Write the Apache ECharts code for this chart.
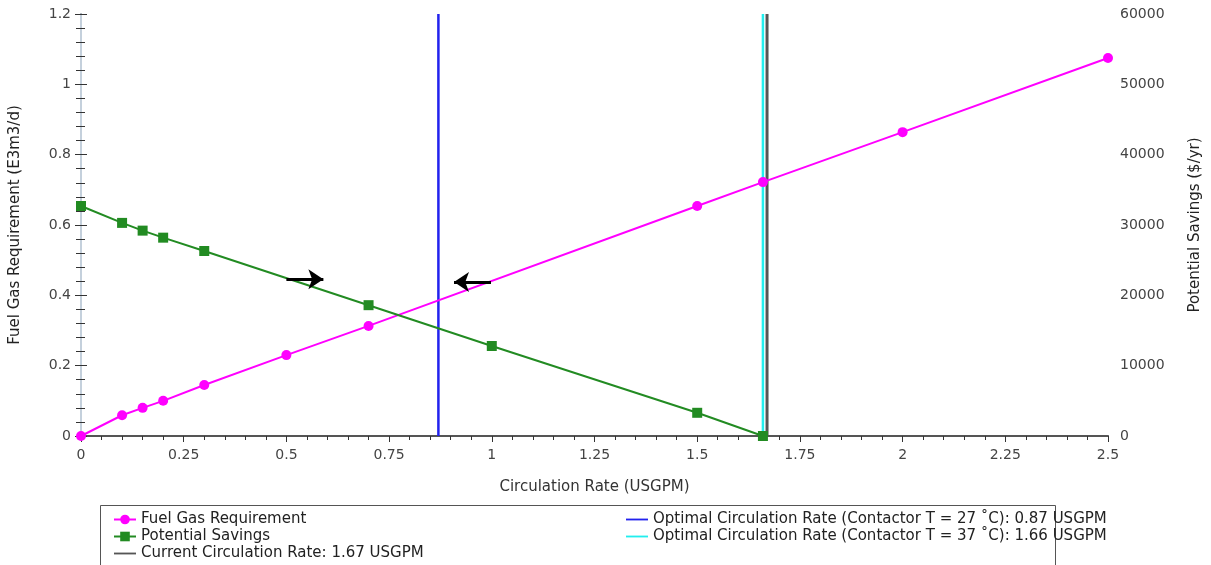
<!DOCTYPE html>
<html>
<head>
<meta charset="utf-8">
<script src="https://cdn.jsdelivr.net/npm/echarts@6/dist/echarts.min.js"></script>
<style>
  html, body { margin: 0; padding: 0; background: #fff; }
  #chart { width: 1211px; height: 565px; }
</style>
</head>
<body>
<div id="chart"></div>
<script>
// circulation rate (USGPM) vs fuel gas (E3m3/d)
var fuelRate = [ 0, 0.1, 0.15, 0.2, 0.3, 0.5, 0.7, 1.5, 1.66, 2, 2.5 ];
var fuelGas = [ 0, 0.059, 0.08, 0.1, 0.145, 0.23, 0.313, 0.654, 0.722, 0.864, 1.075 ];

// circulation rate vs potential savings ($/yr)
var saveRate = [ 0, 0.1, 0.15, 0.2, 0.3, 0.7, 1, 1.5, 1.66 ];
var savings = [ 32700, 30300, 29200, 28200, 26300, 18600, 12800, 3300, 0 ];

// vertical reference lines
var optimal27 = 0.87;
var optimal37 = 1.66;
var currentRate = 1.67;

// arrows: [xFrom, xTo, y] on left axis
var arrowRight = [ 0.5, 0.59, 0.446 ];
var arrowLeft = [ 0.998, 0.908, 0.438 ];

var names = [
  'Fuel Gas Requirement',
  'Potential Savings',
  'Current Circulation Rate: 1.67 USGPM',
  'Optimal Circulation Rate (Contactor T = 27 \u02daC): 0.87 USGPM',
  'Optimal Circulation Rate (Contactor T = 37 \u02daC): 1.66 USGPM'
];

function pairs( xs, ys ) {
  return xs.map( function( x, i ) { return [ x, ys[ i ] ]; } );
}

function vline( x ) {
  return [ [ x, 0 ], [ x, 1.2 ] ];
}

//仅画一条线的图例图标
var lineIcon = 'path://M0,0H12V1H0Z';

var font = 'DejaVu Sans';
var labelColor = '#444';
var legendText = { fontSize: 15, color: '#222', fontFamily: font };

var myChart = echarts.init( document.getElementById( 'chart' ) );
var option = {
  animation: false,
  textStyle: { fontFamily: font },
  grid: { left: 81, right: 98, top: 14, bottom: 129 },
  graphic: [ {
    type: 'rect',
    shape: { x: 100.5, y: 505.5, width: 955, height: 80 },
    style: { fill: '#fff', stroke: '#555', lineWidth: 1 },
    z: -1
  } ],
  legend: [ {
    data: [
      names[ 0 ],
      names[ 1 ],
      { name: names[ 2 ], icon: lineIcon }
    ],
    orient: 'vertical',
    left: 113,
    top: 512,
    height: 80,
    padding: 0,
    itemWidth: 22,
    itemHeight: 12,
    itemGap: 2,
    textStyle: legendText
  }, {
    data: [
      { name: names[ 3 ], icon: lineIcon },
      { name: names[ 4 ], icon: lineIcon }
    ],
    orient: 'vertical',
    left: 626,
    top: 512,
    height: 80,
    padding: 0,
    itemWidth: 22,
    itemHeight: 12,
    itemGap: 2,
    textStyle: legendText
  } ],
  xAxis: [ {
    type: 'value',
    min: 0,
    max: 2.5,
    interval: 0.25,
    name: 'Circulation Rate (USGPM)',
    nameLocation: 'middle',
    nameGap: 44,
    nameTextStyle: { fontSize: 15, color: '#333' },
    axisLine: { lineStyle: { color: '#b8c4d0', width: 2 } },
    axisTick: { show: true, length: 6, lineStyle: { color: '#333' } },
    minorTick: { show: true, splitNumber: 5, length: 4, lineStyle: { color: '#333' } },
    axisLabel: { fontSize: 14, color: labelColor, margin: 12 },
    splitLine: { show: false }
  }, {
    type: 'value',
    position: 'top',
    min: 0,
    max: 2.5,
    axisLine: { show: true, lineStyle: { color: '#555', width: 2 } },
    axisTick: { show: false },
    axisLabel: { show: false },
    splitLine: { show: false }
  } ],
  yAxis: [ {
    type: 'value',
    min: 0,
    max: 1.2,
    interval: 0.2,
    name: 'Fuel Gas Requirement (E3m3/d)',
    nameLocation: 'middle',
    nameGap: 58,
    nameTextStyle: { fontSize: 15, color: '#222' },
    axisLine: { show: true, lineStyle: { color: '#555', width: 2 } },
    axisTick: { show: true, length: 6, lineStyle: { color: '#333' } },
    minorTick: { show: true, splitNumber: 5, length: 5, lineStyle: { color: '#333' } },
    axisLabel: { fontSize: 14, color: labelColor, margin: 10 },
    splitLine: { show: false }
  }, {
    type: 'value',
    min: 0,
    max: 60000,
    interval: 10000,
    position: 'right',
    name: 'Potential Savings ($/yr)',
    nameLocation: 'middle',
    nameGap: 80,
    nameRotate: 90,
    nameTextStyle: { fontSize: 15, color: '#222' },
    axisLine: { show: true, lineStyle: { color: '#c4d0dc', width: 2 } },
    axisTick: { show: true, length: 6, lineStyle: { color: '#333' } },
    minorTick: { show: true, splitNumber: 5, length: 4, lineStyle: { color: '#333' } },
    axisLabel: {
      fontSize: 14,
      color: labelColor,
      margin: 12,
      formatter: function( v ) { return String( v ); }
    },
    splitLine: { show: false }
  } ],
  series: [ {
    name: names[ 0 ],
    type: 'line',
    data: pairs( fuelRate, fuelGas ),
    symbol: 'circle',
    symbolSize: 10,
    itemStyle: { color: '#ff00ff' },
    lineStyle: { color: '#ff00ff', width: 2 },
    z: 4,
    markLine: {
      silent: true,
      symbol: [ 'none', 'arrow' ],
      symbolSize: [ 15, 15 ],
      label: { show: false },
      lineStyle: { color: '#000', width: 3, type: 'solid' },
      data: [
        [ { coord: [ arrowRight[ 0 ], arrowRight[ 2 ] ] }, { coord: [ arrowRight[ 1 ], arrowRight[ 2 ] ] } ],
        [ { coord: [ arrowLeft[ 0 ], arrowLeft[ 2 ] ] }, { coord: [ arrowLeft[ 1 ], arrowLeft[ 2 ] ] } ]
      ]
    }
  }, {
    name: names[ 1 ],
    type: 'line',
    yAxisIndex: 1,
    data: pairs( saveRate, savings ),
    symbol: 'rect',
    symbolSize: 10,
    itemStyle: { color: '#228b22' },
    lineStyle: { color: '#228b22', width: 2 },
    z: 4
  }, {
    name: names[ 2 ],
    type: 'line',
    data: vline( currentRate ),
    symbol: 'none',
    itemStyle: { color: '#555' },
    lineStyle: { color: '#555', width: 3 },
    z: 3
  }, {
    name: names[ 3 ],
    type: 'line',
    data: vline( optimal27 ),
    symbol: 'none',
    itemStyle: { color: '#2222ee' },
    lineStyle: { color: '#2222ee', width: 2.5 },
    z: 3
  }, {
    name: names[ 4 ],
    type: 'line',
    data: vline( optimal37 ),
    symbol: 'none',
    itemStyle: { color: '#22eeee' },
    lineStyle: { color: '#22eeee', width: 2.5 },
    z: 3
  } ]
};

myChart.setOption( option );
</script>
</body>
</html>
